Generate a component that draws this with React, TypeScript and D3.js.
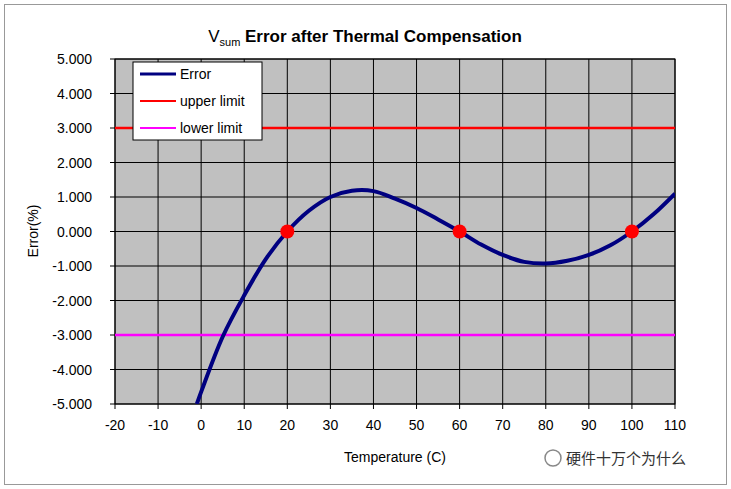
import React from 'react';
import * as d3 from 'd3';

const xTicks = [-20, -10, 0, 10, 20, 30, 40, 50, 60, 70, 80, 90, 100, 110];
const yTicks = [5, 4, 3, 2, 1, 0, -1, -2, -3, -4, -5];
const errTemp = [-1, 0, 5, 10, 15, 20, 25, 30, 35, 40, 45, 50, 55, 60, 65, 70, 75, 80, 85, 90, 95, 100, 105, 110];
const errValue = [-5, -4.65, -3.05, -1.85, -0.8, 0, 0.6, 1.0, 1.18, 1.17, 0.95, 0.68, 0.35, 0, -0.38, -0.68, -0.88, -0.93, -0.85, -0.68, -0.4, 0, 0.5, 1.1];
const zeroPoints = [20, 60, 100];
const upperLimit = 3;
const lowerLimit = -3;

export default function App() {
  const W = 731, H = 489;
  const x = d3.scaleLinear().domain([-20, 110]).range([115, 675]);
  const y = d3.scaleLinear().domain([-5, 5]).range([404, 59]);
  const line = d3.line<number>().x((_, i) => x(errTemp[i])).y(d => y(d)).curve(d3.curveCatmullRom);
  const font = 'Arial, "Liberation Sans", sans-serif';
  return (
    <svg width={W} height={H} style={{ position: 'absolute', left: 0, top: 0 }} fontFamily={font}>
      <rect x={0} y={0} width={W} height={H} fill="#fff" />
      <rect x={4.5} y={4.5} width={722} height={480} fill="#fff" stroke="#999" />
      <text x={365} y={42} textAnchor="middle" fontSize={17} fontWeight="bold">
        <tspan fontWeight="normal">V</tspan><tspan fontSize={11} fontWeight="normal" dy={4}>sum</tspan>
        <tspan dy={-4}> Error after Thermal Compensation</tspan>
      </text>
      <defs><clipPath id="pa"><rect x={115} y={59} width={560} height={345} /></clipPath></defs>
      <rect x={115} y={59} width={560} height={345} fill="#c0c0c0" />
      {xTicks.map(t => <line key={'x' + t} x1={x(t)} x2={x(t)} y1={59} y2={404} stroke="#000" strokeWidth={1} />)}
      {yTicks.map(t => <line key={'y' + t} x1={115} x2={675} y1={y(t)} y2={y(t)} stroke="#000" strokeWidth={1} />)}
      {xTicks.map(t => <line key={'xt' + t} x1={x(t)} x2={x(t)} y1={404} y2={409} stroke="#000" />)}
      {yTicks.map(t => <line key={'yt' + t} x1={110} x2={115} y1={y(t)} y2={y(t)} stroke="#000" />)}
      <rect x={115} y={59} width={560} height={345} fill="none" stroke="#000" />
      <line x1={115} x2={675} y1={y(upperLimit)} y2={y(upperLimit)} stroke="#ff0000" strokeWidth={2.5} />
      <line x1={115} x2={675} y1={y(lowerLimit)} y2={y(lowerLimit)} stroke="#ff00ff" strokeWidth={2.5} />
      <g clipPath="url(#pa)">
        <path d={line(errValue) || ''} fill="none" stroke="#000080" strokeWidth={4} />
      </g>
      {zeroPoints.map(t => <circle key={t} cx={x(t)} cy={y(0)} r={7} fill="#ff0000" />)}
      {xTicks.map(t => <text key={'xl' + t} x={x(t)} y={430} textAnchor="middle" fontSize={14}>{t}</text>)}
      {yTicks.map(t => <text key={'yl' + t} x={92} y={y(t) + 5} textAnchor="end" fontSize={14}>{t.toFixed(3)}</text>)}
      <text x={395} y={462} textAnchor="middle" fontSize={14}>Temperature  (C)</text>
      <text transform="translate(38,231) rotate(-90)" textAnchor="middle" fontSize={14}>Error(%)</text>
      <rect x={133} y={62} width={129} height={78} fill="#fff" stroke="#000" />
      {[['Error', '#000080', 74], ['upper limit', '#ff0000', 101], ['lower limit', '#ff00ff', 128]].map(([n, c, yy]) => (
        <g key={n as string}>
          <line x1={140} x2={176} y1={yy as number} y2={yy as number} stroke={c as string} strokeWidth={n === 'Error' ? 3 : 2} />
          <text x={180} y={(yy as number) + 5} fontSize={14}>{n}</text>
        </g>
      ))}
      <circle cx={553} cy={458} r={8} fill="none" stroke="#888" strokeWidth={1.5} />
      <text x={566} y={464} fontSize={15} fill="#333" fontFamily='"Noto Sans CJK SC", sans-serif'>硬件十万个为什么</text>
    </svg>
  );
}
